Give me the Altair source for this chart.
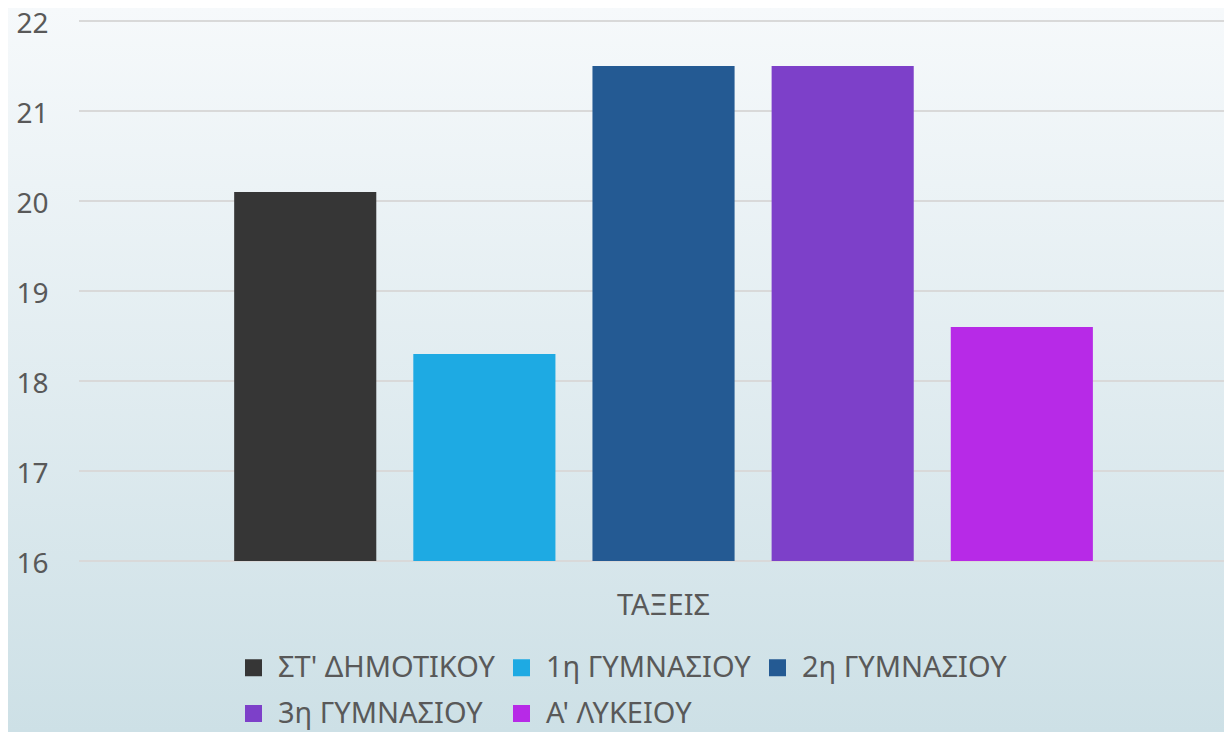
import altair as alt
import pandas as pd

series = ["ΣΤ' ΔΗΜΟΤΙΚΟΥ", "1η ΓΥΜΝΑΣΙΟΥ", "2η ΓΥΜΝΑΣΙΟΥ", "3η ΓΥΜΝΑΣΙΟΥ", "Α' ΛΥΚΕΙΟΥ"]
values = [20.1, 18.3, 21.5, 21.5, 18.6]
colors = ["#363636", "#1eaae3", "#245a93", "#7d40c9", "#b72ae7"]
category = "ΤΑΞΕΙΣ"
yticks = [16, 17, 18, 19, 20, 21, 22]

W, H = 1145, 540
PL, PT, PB = 71, 13, 171
FONT = "Noto Sans"
TXT = "#595959"

df = pd.DataFrame({"series": series, "value": values})
grid_df = pd.DataFrame({"tick": yticks})

bg = alt.Chart(alt.Data(values=[{"a": 1}])).mark_rect(
    fill=alt.Gradient(
        gradient="linear",
        stops=[alt.GradientStop(color="#f6f9fb", offset=0),
               alt.GradientStop(color="#cde0e6", offset=1)],
        x1=0, x2=0, y1=0, y2=1,
    )
).encode(
    x=alt.value(-PL), x2=alt.value(W), y=alt.value(-PT), y2=alt.value(H + PB)
)

yscale = alt.Scale(domain=[16, 22], nice=False, zero=False)
yaxis = alt.Axis(values=yticks, grid=False, ticks=False, domain=False, zindex=1,
                 labelFont=FONT, labelFontSize=28, labelColor=TXT,
                 labelPadding=31, labelOffset=3, title=None)

grid = alt.Chart(grid_df).mark_rule(color="#d9d9d9", strokeWidth=2).encode(
    y=alt.Y("tick:Q", scale=yscale, axis=yaxis)
)

bars = alt.Chart(df).mark_bar().encode(
    x=alt.X("series:N", sort=series,
            scale=alt.Scale(domain=series, paddingInner=0.2067, paddingOuter=0.799, align=0.542),
            axis=alt.Axis(labels=False, ticks=False, domain=False, grid=False, zindex=1,
                          title=category, titleFont=FONT, titleFontSize=29,
                          titleFontWeight="normal", titleColor=TXT,
                          titleX=584, titleY=44, titleBaseline="middle")),
    y=alt.Y("value:Q", scale=yscale, axis=yaxis),
    y2=alt.datum(16),
    color=alt.Color("series:N", sort=series,
                    scale=alt.Scale(domain=series, range=colors),
                    legend=alt.Legend(title=None, orient="none", legendX=160, legendY=632,
                                      direction="horizontal",
                                      columns=3, symbolType="square", symbolSize=289,
                                      symbolStrokeWidth=0, labelFont=FONT, labelFontSize=29,
                                      labelColor=TXT, labelOffset=10, columnPadding=12,
                                      rowPadding=16, labelLimit=0)),
)

chart = alt.layer(bg, grid, bars).properties(
    width=W, height=H,
    padding={"left": PL, "top": PT, "right": 0, "bottom": PB},
    autosize=alt.AutoSizeParams(type="none"),
).configure_view(stroke=None).configure(background="#e3edf1")

chart.save("out.html", embed_options={"renderer": "svg", "actions": False})
